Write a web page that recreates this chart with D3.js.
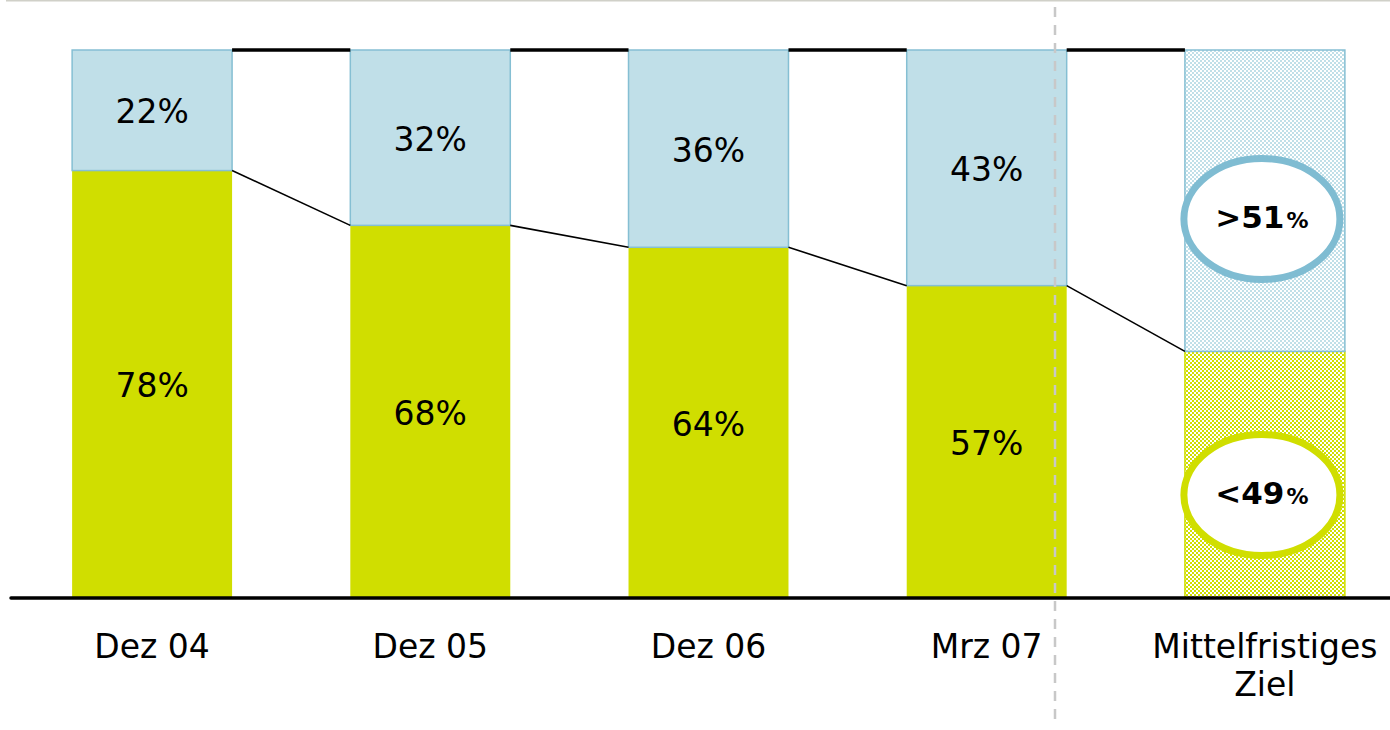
<!DOCTYPE html>
<html>
<head>
<meta charset="utf-8">
<script src="https://cdn.jsdelivr.net/npm/d3@7"></script>
<style>
html,body{margin:0;padding:0;background:#fff;}
svg{display:block;}
text{font-family:"DejaVu Sans",Verdana,sans-serif;}
</style>
</head>
<body>
<svg id="chart" width="1390" height="730"></svg>
<script>
const categories = ["Dez 04", "Dez 05", "Dez 06", "Mrz 07", "Mittelfristiges Ziel"];
const greenValues = [78, 68, 64, 57, 45];
const blueValues = [22, 32, 36, 43, 55];
const greenLabels = ["78%", "68%", "64%", "57%", "<49"];
const blueLabels = ["22%", "32%", "36%", "43%", ">51"];
const isTarget = [false, false, false, false, true];

const W = 1390, H = 730;
const baseY = 598, topY = 50;
const GREEN = "#d0de00", BLUE = "#c0dfe8", BLUE_STROKE = "#85bfd3";

const svg = d3.select("#chart");

const defs = svg.append("defs");
function checker(id, color) {
  const p = defs.append("pattern").attr("id", id).attr("patternUnits", "userSpaceOnUse")
    .attr("width", 4).attr("height", 4);
  p.append("rect").attr("width", 4).attr("height", 4).attr("fill", "#fff");
  p.append("rect").attr("width", 2).attr("height", 2).attr("fill", color);
  p.append("rect").attr("x", 2).attr("y", 2).attr("width", 2).attr("height", 2).attr("fill", color);
}
checker("chkBlue", BLUE);
checker("chkGreen", GREEN);

const x = d3.scaleBand().domain(categories).range([13, 1404]).paddingInner(0.425).paddingOuter(0.2125);
const y = d3.scaleLinear().domain([0, 100]).range([baseY, topY]);
const bw = x.bandwidth();

// top border
svg.append("line").attr("x1", 6).attr("x2", W).attr("y1", 0.5).attr("y2", 0.5)
  .attr("stroke", "#d0d0c8").attr("stroke-width", 2);

const data = categories.map((c, i) => ({c, g: greenValues[i], b: blueValues[i], gl: greenLabels[i], bl: blueLabels[i], t: isTarget[i]}));

// green segments
svg.selectAll("rect.g").data(data).join("rect").attr("class", "g")
  .attr("x", d => x(d.c)).attr("width", bw)
  .attr("y", d => y(d.g)).attr("height", d => y(0) - y(d.g))
  .attr("fill", d => d.t ? "url(#chkGreen)" : GREEN)
  .attr("stroke", d => d.t ? GREEN : "none").attr("stroke-width", 1.5);

// blue segments
svg.selectAll("rect.b").data(data).join("rect").attr("class", "b")
  .attr("x", d => x(d.c)).attr("width", bw)
  .attr("y", d => y(d.g + d.b)).attr("height", d => y(d.g) - y(d.g + d.b))
  .attr("fill", d => d.t ? "url(#chkBlue)" : BLUE)
  .attr("stroke", BLUE_STROKE).attr("stroke-width", 1.5);

// connectors
for (let i = 0; i < data.length - 1; i++) {
  const x1 = x(data[i].c) + bw, x2 = x(data[i + 1].c);
  svg.append("line").attr("x1", x1).attr("x2", x2)
    .attr("y1", y(data[i].g)).attr("y2", y(data[i + 1].g))
    .attr("stroke", "#000").attr("stroke-width", 1.6);
  svg.append("line").attr("x1", x1).attr("x2", x2)
    .attr("y1", y(100)).attr("y2", y(100))
    .attr("stroke", "#000").attr("stroke-width", 3.5);
}

// baseline
svg.append("line").attr("x1", 11).attr("x2", W).attr("y1", baseY).attr("y2", baseY)
  .attr("stroke", "#000").attr("stroke-width", 3.5).attr("stroke-linecap", "round");

// segment labels (non-target)
const normal = data.filter(d => !d.t);
svg.selectAll("text.gl").data(normal).join("text").attr("class", "gl")
  .attr("x", d => x(d.c) + bw / 2).attr("y", d => (y(d.g) + y(0)) / 2)
  .attr("text-anchor", "middle").attr("dy", "0.4em")
  .attr("font-size", 33).attr("fill", "#000").text(d => d.gl);
svg.selectAll("text.bl").data(normal).join("text").attr("class", "bl")
  .attr("x", d => x(d.c) + bw / 2).attr("y", d => (y(d.g + d.b) + y(d.g)) / 2)
  .attr("text-anchor", "middle").attr("dy", "0.4em")
  .attr("font-size", 33).attr("fill", "#000").text(d => d.bl);

// target ellipses
const target = data.filter(d => d.t);
target.forEach(d => {
  const cx = x(d.c) + bw / 2 - 3;
  const items = [
    {cy: 219, stroke: "#7fbcd2", label: d.bl},
    {cy: 495, stroke: GREEN, label: d.gl}
  ];
  items.forEach(it => {
    svg.append("ellipse").attr("cx", cx).attr("cy", it.cy).attr("rx", 78).attr("ry", 60.5)
      .attr("fill", "#fff").attr("stroke", it.stroke).attr("stroke-width", 7);
    const t = svg.append("text").attr("x", cx).attr("y", it.cy + 3).attr("dy", "0.38em")
      .attr("text-anchor", "middle").attr("fill", "#000");
    t.append("tspan").attr("font-size", 31).attr("font-weight", "bold").text(it.label);
    t.append("tspan").attr("font-size", 22).attr("font-weight", "bold").attr("dx", 2).text("%");
  });
});

// category labels
data.forEach(d => {
  const words = d.c === "Mittelfristiges Ziel" ? ["Mittelfristiges", "Ziel"] : [d.c];
  const t = svg.append("text").attr("x", x(d.c) + bw / 2).attr("y", 658)
    .attr("text-anchor", "middle").attr("font-size", 33).attr("fill", "#000");
  words.forEach((w, k) => t.append("tspan").attr("x", x(d.c) + bw / 2).attr("dy", k === 0 ? 0 : 38).text(w));
});

// dashed divider
svg.append("line").attr("x1", 1055).attr("x2", 1055).attr("y1", 7).attr("y2", 726)
  .attr("stroke", "#c8c8c8").attr("stroke-width", 2.5).attr("stroke-dasharray", "10,8");
</script>
</body>
</html>
